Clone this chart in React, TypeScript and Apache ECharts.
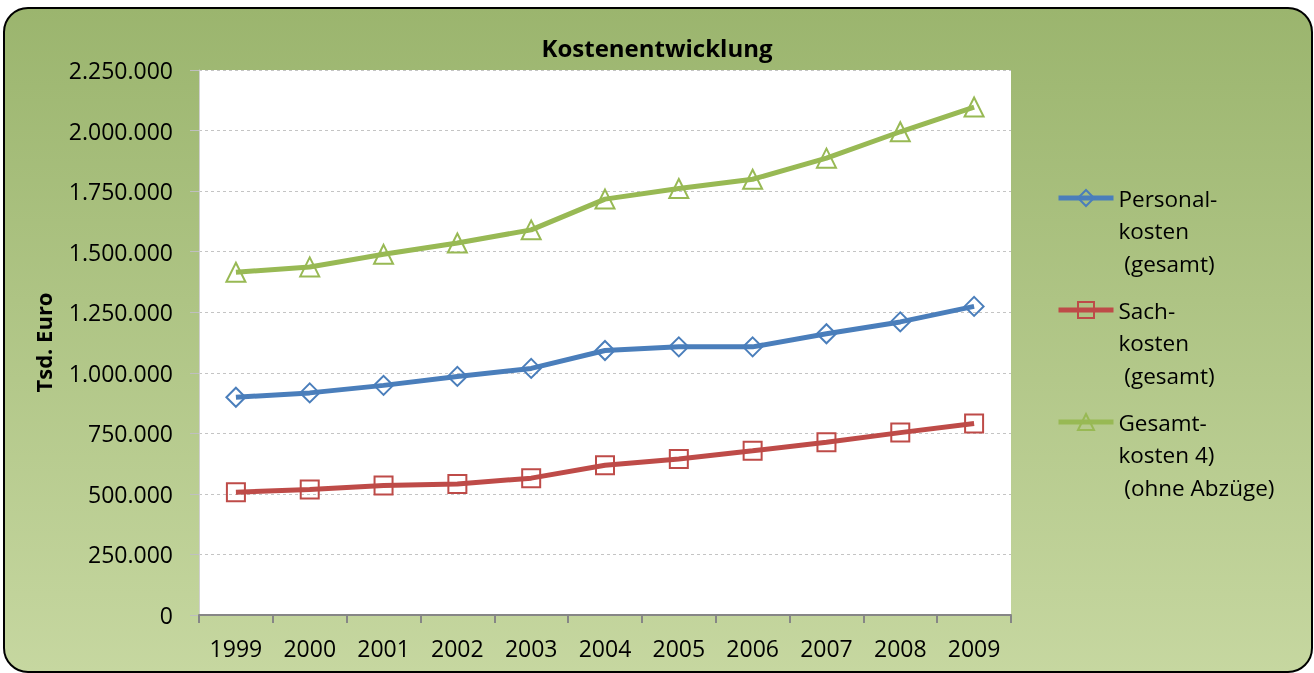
import React, { useEffect, useRef } from "react";
import * as echarts from "echarts";

const years = ["1999", "2000", "2001", "2002", "2003", "2004", "2005", "2006", "2007", "2008", "2009"];
const personal = [899000, 917000, 948000, 985000, 1018000, 1092000, 1107000, 1107000, 1161000, 1210000, 1274000];
const sach = [507000, 518000, 535000, 541000, 565000, 618000, 644000, 678000, 713000, 753000, 791000];
const gesamt = [1415000, 1437000, 1489000, 1536000, 1590000, 1717000, 1761000, 1799000, 1886000, 1995000, 2097000];

const seriesNames = ["Personalkosten (gesamt)", "Sachkosten (gesamt)", "Gesamtkosten 4) (ohne Abzüge)"];
const legendLabels = ["Personal-\nkosten\n (gesamt)", "Sach-\nkosten\n (gesamt)", "Gesamt-\nkosten 4)\n (ohne Abzüge)"];
const colors = ["#4a7ebb", "#be4b48", "#98b954"];
const symbols = ["diamond", "rect", "triangle"];
const symbolSizes = [19, 18, 19];

const FONT = "'Open Sans', 'Noto Sans', sans-serif";

function fmt(v: number): string {
  return String(Math.round(v)).replace(/\B(?=(\d{3})+(?!\d))/g, ".");
}

export default function App() {
  const ref = useRef<HTMLDivElement>(null);
  useEffect(() => {
    if (!ref.current) return;
    const chart = echarts.init(ref.current, undefined, { renderer: "svg" });
    const lh = 32.5;
    const iconCenters = [198, 310, 422];
    const dataSets = [personal, sach, gesamt];
    chart.setOption({
      animation: false,
      backgroundColor: "transparent",
      graphic: [
        {
          type: "rect",
          z: -10,
          zlevel: 0,
          shape: { x: 4, y: 8, width: 1308, height: 664, r: 24 },
          style: {
            fill: new echarts.graphic.LinearGradient(0, 0, 0, 1, [
              { offset: 0, color: "#9bb56e" },
              { offset: 1, color: "#c6d7a0" },
            ]),
            stroke: "#000",
            lineWidth: 2,
          },
        },
      ],
      title: {
        text: "Kostenentwicklung",
        left: "center",
        top: 30,
        textStyle: { fontFamily: FONT, fontWeight: "bold", fontSize: 24, color: "#000" },
      },
      legend: seriesNames.map((n, i) => ({
        data: [n],
        orient: "vertical",
        left: 1056,
        top: iconCenters[i] - 2.5 * lh,
        padding: 0,
        itemWidth: 55,
        itemHeight: 20,
        selectedMode: false,
        formatter: () => "\n\n" + legendLabels[i],
        lineStyle: { width: 5 },
        textStyle: {
          fontFamily: FONT,
          fontSize: 22.5,
          color: "#000",
          lineHeight: lh,
        },
      })),
      grid: {
        left: 199,
        right: 303,
        top: 70,
        bottom: 58,
        show: true,
        backgroundColor: "#ffffff",
        borderWidth: 0,
      },
      xAxis: {
        type: "category",
        data: years,
        boundaryGap: true,
        axisLine: { lineStyle: { color: "#868686", width: 2 } },
        axisTick: { show: true, length: 8, lineStyle: { color: "#868686", width: 2 } },
        axisLabel: { fontFamily: FONT, fontSize: 23, color: "#000", margin: 21 },
        splitLine: { show: false },
      },
      yAxis: {
        type: "value",
        min: 0,
        max: 2250000,
        interval: 250000,
        name: "Tsd. Euro",
        nameLocation: "middle",
        nameGap: 145,
        nameTextStyle: { fontFamily: FONT, fontWeight: "bold", fontSize: 22, color: "#000" },
        axisLine: { show: true, lineStyle: { color: "#d0d0d0", width: 1 } },
        axisTick: { show: true, length: 9, lineStyle: { color: "#bfbfbf", width: 1 } },
        axisLabel: {
          fontFamily: FONT,
          fontSize: 23,
          color: "#000",
          margin: 26,
          formatter: (v: number) => fmt(v),
        },
        splitLine: { show: true, lineStyle: { color: "#c4c4c4", type: [3, 3], width: 1 } },
      },
      series: seriesNames.map((n, i) => ({
        name: n,
        type: "line",
        data: dataSets[i],
        symbol: symbols[i],
        symbolSize: symbolSizes[i],
        lineStyle: { color: colors[i], width: 5 },
        itemStyle: { color: "rgba(255,255,255,0)", borderColor: colors[i], borderWidth: 2 },
        z: 2 + i,
      })),
    });
    return () => chart.dispose();
  }, []);
  return (
    <div
      ref={ref}
      style={{ position: "fixed", left: 0, top: 0, width: 1314, height: 673 }}
    />
  );
}
